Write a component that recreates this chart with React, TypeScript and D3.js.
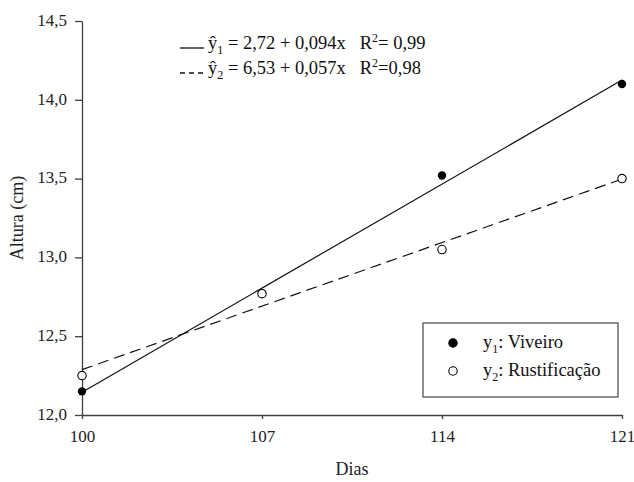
import React, { useEffect, useRef } from 'react';
import * as d3 from 'd3';

const days = [100, 107, 114, 121];
const viveiro = [12.15, 12.77, 13.52, 14.1];
const rustificacao = [12.25, 12.77, 13.05, 13.5];
const yTicks = [12.0, 12.5, 13.0, 13.5, 14.0, 14.5];

const W = 634;
const H = 482;
const font = "'Liberation Serif'";

// least squares line through the points
function fit(xs: number[], ys: number[]) {
  const mx = d3.mean(xs) as number;
  const my = d3.mean(ys) as number;
  let num = 0, den = 0;
  xs.forEach((x, i) => { num += (x - mx) * (ys[i] - my); den += (x - mx) * (x - mx); });
  const b = num / den;
  const a = my - b * mx;
  return (x: number) => a + b * x;
}

export default function App() {
  const ref = useRef<SVGSVGElement>(null);

  useEffect(() => {
    const svg = d3.select(ref.current);
    svg.selectAll('*').remove();

    const x = d3.scaleLinear().domain([100, 121]).range([82, 622]);
    const y = d3.scaleLinear().domain([12, 14.5]).range([415, 21]);
    const axisColor = '#404040';

    const xAxis = svg.append('g')
      .attr('transform', `translate(0,${y(12)})`)
      .call(d3.axisBottom(x).tickValues(days).tickSize(4).tickSizeOuter(0).tickPadding(9).tickFormat(d3.format('d')));
    const yAxis = svg.append('g')
      .attr('transform', `translate(${x(100)},0)`)
      .call(d3.axisLeft(y).tickValues(yTicks).tickSize(7).tickSizeOuter(0).tickPadding(8)
        .tickFormat((d) => (d as number).toFixed(1).replace('.', ',')));
    [xAxis, yAxis].forEach((g) => {
      g.attr('font-family', null).attr('font-size', null);
      g.selectAll('path,line').attr('stroke', axisColor).attr('stroke-width', 1.3);
      g.selectAll('text').attr('fill', '#222')
        .style('font-family', font).style('font-size', '17px');
    });
    xAxis.selectAll('text').attr('dy', '0.85em');
    yAxis.selectAll('text').attr('dy', '0.25em');

    // fitted lines
    const f1 = fit(days, viveiro);
    const f2 = fit(days, rustificacao);
    svg.append('line')
      .attr('x1', x(100)).attr('y1', y(f1(100)))
      .attr('x2', x(121)).attr('y2', y(f1(121)))
      .attr('stroke', '#111').attr('stroke-width', 1.2);
    svg.append('line')
      .attr('x1', x(100)).attr('y1', y(f2(100)))
      .attr('x2', x(121)).attr('y2', y(f2(121)))
      .attr('stroke', '#111').attr('stroke-width', 1.2).attr('stroke-dasharray', '11,6');

    svg.selectAll('circle.v').data(viveiro).enter().append('circle')
      .attr('cx', (d, i) => x(days[i])).attr('cy', (d) => y(d))
      .attr('r', 4.2).attr('fill', '#000');
    svg.selectAll('circle.r').data(rustificacao).enter().append('circle')
      .attr('cx', (d, i) => x(days[i])).attr('cy', (d) => y(d))
      .attr('r', 4.2).attr('fill', '#fff').attr('stroke', '#000').attr('stroke-width', 1.1);

    // axis titles
    svg.append('text')
      .attr('transform', `translate(23,218)rotate(-90)`)
      .attr('text-anchor', 'middle').attr('fill', '#222')
      .style('font-family', font).style('font-size', '18px')
      .text('Altura (cm)');
    svg.append('text')
      .attr('x', 352).attr('y', 475)
      .attr('text-anchor', 'middle').attr('fill', '#222')
      .style('font-family', font).style('font-size', '18px')
      .text('Dias');

    // equations
    const eq = [
      { dash: null, sub: '1', body: ' = 2,72 + 0,094x\u00a0\u00a0\u00a0R', r2: '= 0,99', yy: 49 },
      { dash: '5,4', sub: '2', body: ' = 6,53 + 0,057x\u00a0\u00a0\u00a0R', r2: '=0,98', yy: 74 },
    ];
    eq.forEach((e) => {
      svg.append('line')
        .attr('x1', 180).attr('x2', 204).attr('y1', e.yy - 1).attr('y2', e.yy - 1)
        .attr('stroke', '#111').attr('stroke-width', 1.3)
        .attr('stroke-dasharray', e.dash);
      const t = svg.append('text')
        .attr('x', 208).attr('y', e.yy).attr('fill', '#111')
        .style('font-family', font).style('font-size', '18.5px');
      t.append('tspan').text('ŷ');
      t.append('tspan').style('font-size', '12px').attr('dy', 5).text(e.sub);
      t.append('tspan').attr('dy', -5).text(e.body);
      t.append('tspan').style('font-size', '12px').attr('dy', -7).text('2');
      t.append('tspan').attr('dy', 7).text(e.r2);
    });

    // legend
    svg.append('rect')
      .attr('x', 423).attr('y', 323).attr('width', 195).attr('height', 74)
      .attr('fill', '#fff').attr('stroke', '#555').attr('stroke-width', 1.3);
    const leg = [
      { fill: '#000', sub: '1', label: ': Viveiro', yy: 343 },
      { fill: '#fff', sub: '2', label: ': Rustificação', yy: 371 },
    ];
    leg.forEach((l) => {
      svg.append('circle').attr('cx', 453).attr('cy', l.yy).attr('r', 4.2)
        .attr('fill', l.fill).attr('stroke', '#000').attr('stroke-width', 1.1);
      const t = svg.append('text')
        .attr('x', 483).attr('y', l.yy + 5).attr('fill', '#111')
        .style('font-family', font).style('font-size', '18.5px');
      t.append('tspan').text('y');
      t.append('tspan').style('font-size', '12px').attr('dy', 5).text(l.sub);
      t.append('tspan').attr('dy', -5).text(l.label);
    });
  }, []);

  return (
    <svg ref={ref} width={W} height={H}
      style={{ position: 'absolute', left: 0, top: 0, background: '#fff' }} />
  );
}
